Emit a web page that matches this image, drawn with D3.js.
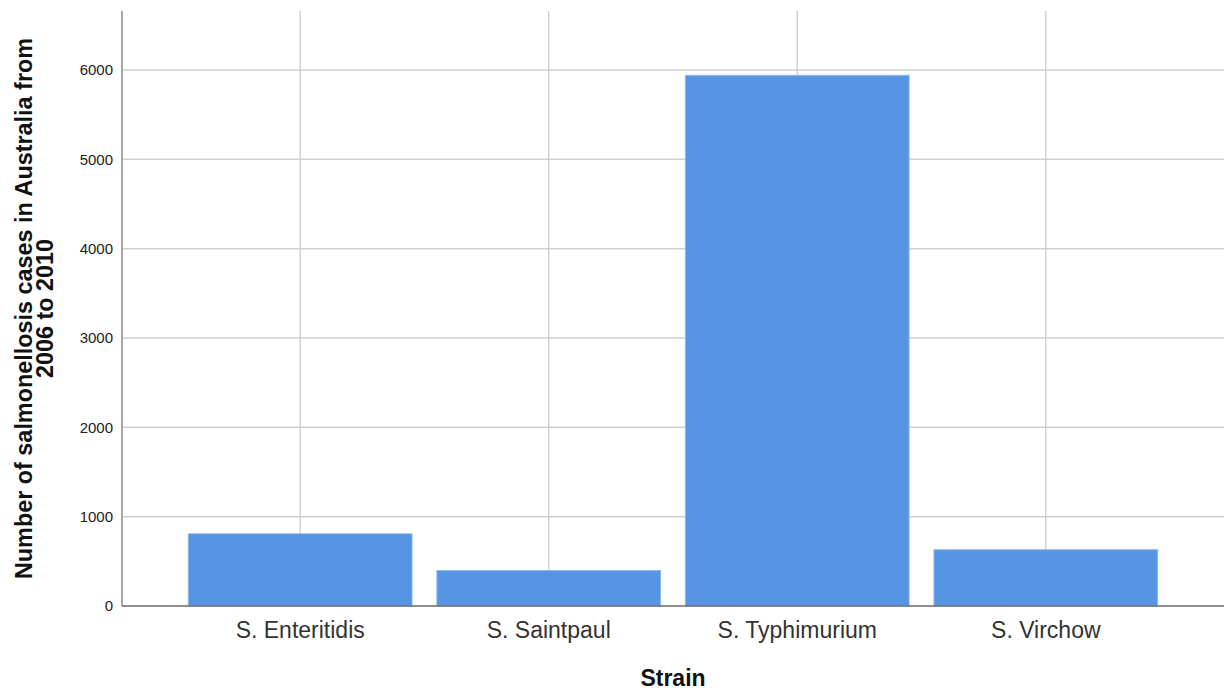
<!DOCTYPE html>
<html>
<head>
<meta charset="utf-8">
<script src="https://cdn.jsdelivr.net/npm/d3@7"></script>
<style>
  html, body { margin: 0; padding: 0; background: #fff; }
  svg { display: block; font-family: "Liberation Sans", Arial, sans-serif; }
</style>
</head>
<body>
<svg id="chart" width="1224" height="691"></svg>
<script>
const categories = ["S. Enteritidis", "S. Saintpaul", "S. Typhimurium", "S. Virchow"];
const cases = [808, 397, 5940, 630];
const yTicks = [0, 1000, 2000, 3000, 4000, 5000, 6000];
const xTitle = "Strain";
const yTitleLines = ["Number of salmonellosis cases in Australia from", "2006 to 2010"];

const svg = d3.select("#chart");
const mLeft = 122, mRight = 1224, mTop = 11, mBottom = 606;

const x = d3.scaleBand().domain(categories).range([mLeft, mRight])
  .paddingInner(0.1).paddingOuter(0.267);
const y = d3.scaleLinear().domain([0, 6660]).range([mBottom, mTop]);

// horizontal gridlines
svg.append("g").selectAll("line").data(yTicks.filter(d => d > 0)).join("line")
  .attr("x1", mLeft).attr("x2", mRight)
  .attr("y1", d => y(d)).attr("y2", d => y(d))
  .attr("stroke", "#cfcfcf").attr("stroke-width", 1.5);

// vertical gridlines at category centers
svg.append("g").selectAll("line").data(categories).join("line")
  .attr("x1", d => x(d) + x.bandwidth() / 2).attr("x2", d => x(d) + x.bandwidth() / 2)
  .attr("y1", mTop).attr("y2", mBottom)
  .attr("stroke", "#c8c8c8").attr("stroke-width", 1.2);

// bars
svg.append("g").selectAll("rect").data(categories).join("rect")
  .attr("x", d => x(d))
  .attr("y", (d, i) => y(cases[i]))
  .attr("width", x.bandwidth())
  .attr("height", (d, i) => y(0) - y(cases[i]))
  .attr("fill", "#5595e3")
  .attr("stroke", "#8ab6ee").attr("stroke-width", 1);

// y axis
const yAxis = d3.axisLeft(y).tickValues(yTicks).tickSize(0).tickPadding(9).tickFormat(d3.format("d"));
const gy = svg.append("g").attr("transform", `translate(${mLeft},0)`).call(yAxis);
gy.select(".domain").remove();
gy.selectAll("text").attr("font-size", 15).attr("fill", "#222")
  .attr("font-family", "Liberation Sans, Arial, sans-serif");
svg.append("line").attr("x1", mLeft).attr("x2", mLeft).attr("y1", mTop).attr("y2", mBottom)
  .attr("stroke", "#8a8a8a").attr("stroke-width", 1.5);

// x axis
const xAxis = d3.axisBottom(x).tickSize(0).tickPadding(15.5);
const gx = svg.append("g").attr("transform", `translate(0,${mBottom})`).call(xAxis);
gx.select(".domain").remove();
gx.selectAll("text").attr("font-size", 23).attr("fill", "#333")
  .attr("font-family", "Liberation Sans, Arial, sans-serif");
svg.append("line").attr("x1", mLeft).attr("x2", mRight).attr("y1", mBottom).attr("y2", mBottom)
  .attr("stroke", "#6a6a6a").attr("stroke-width", 1.5);

// x title
svg.append("text").attr("x", (mLeft + mRight) / 2).attr("y", 686)
  .attr("text-anchor", "middle").attr("font-size", 23).attr("font-weight", "bold")
  .attr("fill", "#111").text(xTitle);

// y title
const yt = svg.append("text")
  .attr("transform", `translate(32,${(mTop + mBottom) / 2}) rotate(-90)`)
  .attr("text-anchor", "middle").attr("font-size", 23.4).attr("font-weight", "bold")
  .attr("fill", "#111");
yTitleLines.forEach((t, i) => {
  yt.append("tspan").attr("x", 0).attr("y", i * 21).text(t);
});
</script>
</body>
</html>
